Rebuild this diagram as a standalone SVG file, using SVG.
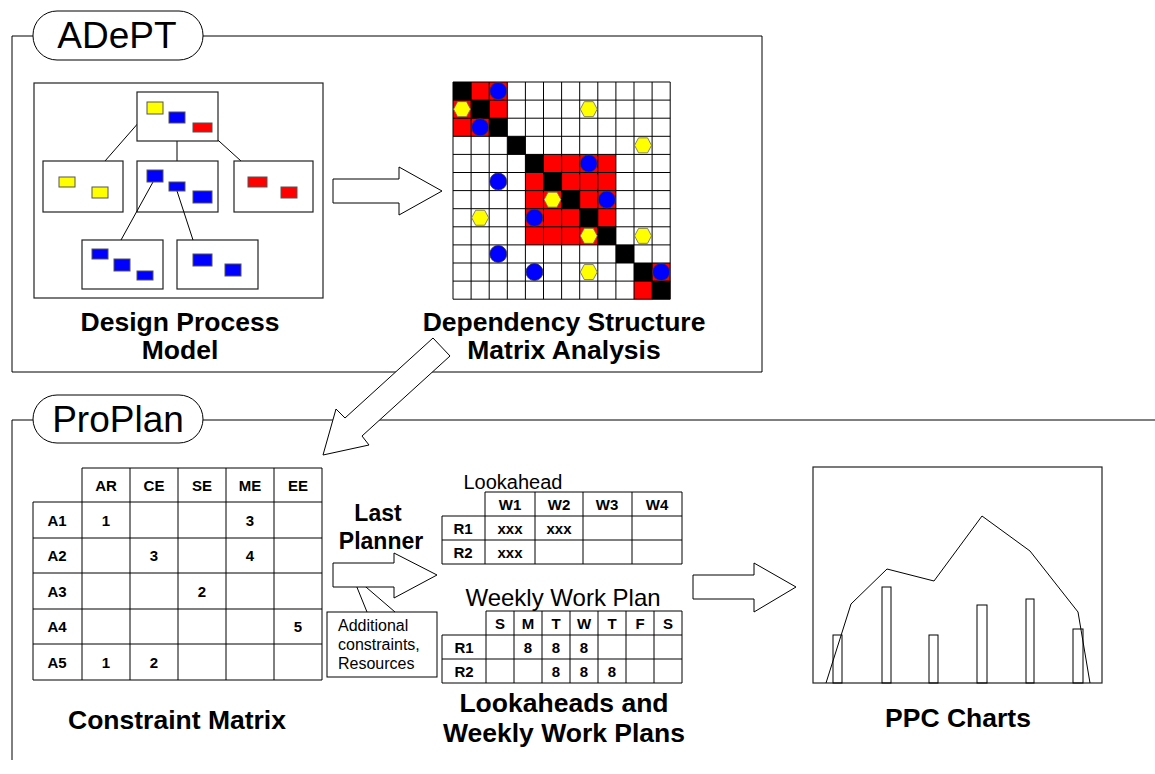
<svg xmlns="http://www.w3.org/2000/svg" width="1155" height="774" viewBox="0 0 1155 774">
<style>
text{font-family:"Liberation Sans",Arial,sans-serif;fill:#000}
.ln{fill:none;stroke:#000;stroke-width:1}
.bx{fill:#fff;stroke:#222;stroke-width:1.2}
.ttl{font-size:37px;text-anchor:middle}
.lbl{font-size:26.5px;font-weight:bold;text-anchor:middle}
.tb{font-size:15px;font-weight:bold;text-anchor:middle}
.sm{font-size:16px}
.y{fill:#FFFF00;stroke:#555;stroke-width:1}
.b{fill:#0000FF;stroke:#555;stroke-width:1}
.r{fill:#FF0000;stroke:#555;stroke-width:1}
.arr{fill:#fff;stroke:#000;stroke-width:1}
</style>
<defs>
<polygon id="hex" points="-8.5,0 -4.5,-7.5 4.5,-7.5 8.5,0 4.5,7.5 -4.5,7.5" fill="#FFFF00" stroke="#666" stroke-width="0.8"/>
<circle id="dot" r="8.5" fill="#0000FF" stroke="#333" stroke-width="0.8"/>
</defs>
<rect width="1155" height="774" fill="#fff"/>

<g id="adept-frame">
<path class="ln" d="M33,36 H12 V372 H762 V36 H203"/>
<rect x="33" y="11" width="170" height="49" rx="24" fill="#fff" stroke="#000"/>
<text class="ttl" x="117" y="48">ADePT</text>
</g>

<g id="proplan-frame">
<path class="ln" d="M33,420 H12 V760 M203,420 H1155"/>
<rect x="33" y="395" width="170" height="48" rx="24" fill="#fff" stroke="#000"/>
<text class="ttl" x="118" y="432">ProPlan</text>
</g>

<g id="design-process-model">
<rect x="34" y="83" width="289" height="215" class="bx"/>
<g class="ln">
<line x1="147" y1="113" x2="105" y2="161"/>
<line x1="177" y1="123" x2="177" y2="161"/>
<line x1="209" y1="132" x2="241" y2="161"/>
</g>
<rect x="137" y="92" width="81" height="49" class="bx"/>
<rect x="43" y="161" width="80" height="51" class="bx"/>
<rect x="137" y="161" width="81" height="51" class="bx"/>
<rect x="234" y="161" width="79" height="51" class="bx"/>
<rect x="82" y="240" width="81" height="49" class="bx"/>
<rect x="177" y="240" width="81" height="49" class="bx"/>
<g class="ln">
<line x1="153" y1="182" x2="121" y2="240"/>
<line x1="177" y1="191" x2="193" y2="240"/>
</g>
<rect class="y" x="147" y="102" width="16" height="12"/>
<rect class="b" x="169" y="112" width="16" height="11"/>
<rect class="r" x="193" y="123" width="19" height="9"/>
<rect class="y" x="59" y="177" width="16" height="10"/>
<rect class="y" x="92" y="187" width="16" height="11"/>
<rect class="b" x="147" y="170" width="16" height="12"/>
<rect class="b" x="169" y="182" width="16" height="9"/>
<rect class="b" x="193" y="191" width="19" height="12"/>
<rect class="r" x="248" y="177" width="19" height="10"/>
<rect class="r" x="281" y="187" width="16" height="11"/>
<rect class="b" x="92" y="249" width="16" height="10"/>
<rect class="b" x="114" y="259" width="16" height="12"/>
<rect class="b" x="137" y="271" width="16" height="9"/>
<rect class="b" x="193" y="254" width="19" height="12"/>
<rect class="b" x="225" y="264" width="16" height="12"/>
<text class="lbl" x="180" y="331">Design Process</text>
<text class="lbl" x="180" y="359">Model</text>
</g>

<g id="dsm">
<rect x="453" y="82" width="217.2" height="217.2" fill="#fff"/>
<g fill="#FF0000">
<rect x="453" y="82" width="54.3" height="54.3"/>
<rect x="525.4" y="154.4" width="90.5" height="90.5"/>
<rect x="634" y="263" width="36.2" height="36.2"/>
</g>
<g fill="#000">
<rect x="453" y="82" width="18.1" height="18.1"/>
<rect x="471.1" y="100.1" width="18.1" height="18.1"/>
<rect x="489.2" y="118.2" width="18.1" height="18.1"/>
<rect x="507.3" y="136.3" width="18.1" height="18.1"/>
<rect x="525.4" y="154.4" width="18.1" height="18.1"/>
<rect x="543.5" y="172.5" width="18.1" height="18.1"/>
<rect x="561.6" y="190.6" width="18.1" height="18.1"/>
<rect x="579.7" y="208.7" width="18.1" height="18.1"/>
<rect x="597.8" y="226.8" width="18.1" height="18.1"/>
<rect x="615.9" y="244.9" width="18.1" height="18.1"/>
<rect x="634" y="263" width="18.1" height="18.1"/>
<rect x="652.1" y="281.1" width="18.1" height="18.1"/>
</g>
<path class="ln" d="M453,82V299.2M471.1,82V299.2M489.2,82V299.2M507.3,82V299.2M525.4,82V299.2M543.5,82V299.2M561.6,82V299.2M579.7,82V299.2M597.8,82V299.2M615.9,82V299.2M634,82V299.2M652.1,82V299.2M670.2,82V299.2M453,82H670.2M453,100.1H670.2M453,118.2H670.2M453,136.3H670.2M453,154.4H670.2M453,172.5H670.2M453,190.6H670.2M453,208.7H670.2M453,226.8H670.2M453,244.9H670.2M453,263H670.2M453,281.1H670.2M453,299.2H670.2"/>
<use href="#dot" x="498.25" y="91.05"/>
<use href="#dot" x="480.15" y="127.25"/>
<use href="#dot" x="588.75" y="163.45"/>
<use href="#dot" x="498.25" y="181.55"/>
<use href="#dot" x="606.85" y="199.65"/>
<use href="#dot" x="534.45" y="217.75"/>
<use href="#dot" x="498.25" y="253.95"/>
<use href="#dot" x="534.45" y="272.05"/>
<use href="#dot" x="661.15" y="272.05"/>
<use href="#hex" x="462.05" y="109.15"/>
<use href="#hex" x="588.75" y="109.15"/>
<use href="#hex" x="643.05" y="145.35"/>
<use href="#hex" x="552.55" y="199.65"/>
<use href="#hex" x="480.15" y="217.75"/>
<use href="#hex" x="588.75" y="235.85"/>
<use href="#hex" x="643.05" y="235.85"/>
<use href="#hex" x="588.75" y="272.05"/>
<text class="lbl" x="564" y="331">Dependency Structure</text>
<text class="lbl" x="564" y="359">Matrix Analysis</text>
</g>

<g id="constraint-matrix">
<path class="ln" d="M82,468H322M33,502H322M33,538H322M33,573H322M33,609H322M33,644H322M33,680H322M33,502V680M82,468V680M130,468V680M178,468V680M226,468V680M274,468V680M322,468V680"/>
<text class="tb" x="106" y="491">AR</text>
<text class="tb" x="154" y="491">CE</text>
<text class="tb" x="202" y="491">SE</text>
<text class="tb" x="250" y="491">ME</text>
<text class="tb" x="298" y="491">EE</text>
<text class="tb" x="57" y="526">A1</text>
<text class="tb" x="57" y="561">A2</text>
<text class="tb" x="57" y="597">A3</text>
<text class="tb" x="57" y="632">A4</text>
<text class="tb" x="57" y="668">A5</text>
<text class="tb" x="106" y="526">1</text>
<text class="tb" x="250" y="526">3</text>
<text class="tb" x="154" y="561">3</text>
<text class="tb" x="250" y="561">4</text>
<text class="tb" x="202" y="597">2</text>
<text class="tb" x="298" y="632">5</text>
<text class="tb" x="106" y="668">1</text>
<text class="tb" x="154" y="668">2</text>
<text class="lbl" x="177" y="729">Constraint Matrix</text>
</g>

<g id="last-planner">
<text class="lbl" x="378" y="521" style="font-size:23px">Last</text>
<text class="lbl" x="381" y="549" style="font-size:23px">Planner</text>
</g>

<g id="callout">
<rect x="327" y="612" width="110" height="65" fill="#fff" stroke="#000"/>
<polyline class="ln" points="367,612 352,575 395,612"/>
<text class="sm" x="338" y="631">Additional</text>
<text class="sm" x="338" y="650">constraints,</text>
<text class="sm" x="338" y="669">Resources</text>
</g>

<g id="lookahead">
<text x="513" y="489" style="font-size:20px;text-anchor:middle">Lookahead</text>
<path class="ln" d="M485,492H682M442,516H682M442,540H682M442,564H682M442,516V564M485,492V564M535,492V564M583,492V564M632,492V564M682,492V564"/>
<text class="tb" x="510" y="510">W1</text>
<text class="tb" x="559" y="510">W2</text>
<text class="tb" x="607" y="510">W3</text>
<text class="tb" x="657" y="510">W4</text>
<text class="tb" x="463" y="534">R1</text>
<text class="tb" x="463" y="558">R2</text>
<text class="tb" x="510" y="534">xxx</text>
<text class="tb" x="559" y="534">xxx</text>
<text class="tb" x="510" y="558">xxx</text>
</g>

<g id="weekly-work-plan">
<text x="563" y="606" style="font-size:24px;text-anchor:middle">Weekly Work Plan</text>
<path class="ln" d="M486,611H682M442,635H682M442,659H682M442,683H682M442,635V683M486,611V683M514,611V683M542,611V683M570,611V683M598,611V683M626,611V683M654,611V683M682,611V683"/>
<text class="tb" x="500" y="629">S</text>
<text class="tb" x="528" y="629">M</text>
<text class="tb" x="556" y="629">T</text>
<text class="tb" x="584" y="629">W</text>
<text class="tb" x="612" y="629">T</text>
<text class="tb" x="640" y="629">F</text>
<text class="tb" x="668" y="629">S</text>
<text class="tb" x="464" y="653">R1</text>
<text class="tb" x="464" y="677">R2</text>
<text class="tb" x="528" y="653">8</text>
<text class="tb" x="556" y="653">8</text>
<text class="tb" x="584" y="653">8</text>
<text class="tb" x="556" y="677">8</text>
<text class="tb" x="584" y="677">8</text>
<text class="tb" x="612" y="677">8</text>
<text class="lbl" x="564" y="712">Lookaheads and</text>
<text class="lbl" x="564" y="742">Weekly Work Plans</text>
</g>

<g id="ppc-charts">
<rect x="813" y="467" width="289" height="216" fill="#fff" stroke="#222" stroke-width="1.2"/>
<g class="ln">
<rect x="833" y="635" width="9" height="48"/>
<rect x="882" y="587" width="9" height="96"/>
<rect x="929" y="635" width="9" height="48"/>
<rect x="977" y="605" width="10" height="78"/>
<rect x="1026" y="599" width="8" height="84"/>
<rect x="1073" y="629" width="10" height="54"/>
<polyline points="826,683 851,604 887,569 934,581 982,516 1030,551 1078,612 1090,683"/>
</g>
<text class="lbl" x="958" y="727">PPC Charts</text>
</g>

<g id="connectors">
<polygon class="arr" points="333,179 399,179 399,167 442,191 399,215 399,203 333,203"/>
<polygon class="arr" points="433,338 450,356 362,436 369,445 323,455 336,409 345,418"/>
<polygon class="arr" points="333,563 394,563 394,553 437,575 394,598 394,587 333,587"/>
<polygon class="arr" points="693,575 754,575 754,563 796,587 754,612 754,599 693,599"/>
</g>
</svg>
